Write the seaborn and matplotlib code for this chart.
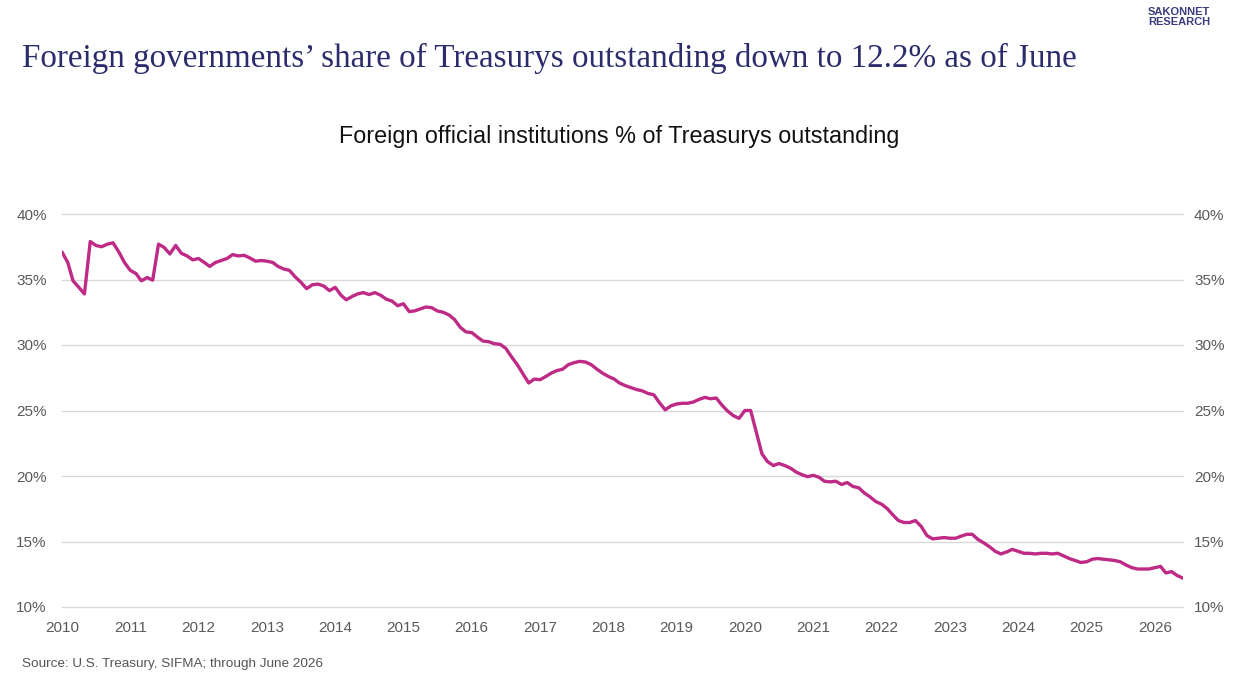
import matplotlib
matplotlib.use("Agg")
import matplotlib.pyplot as plt
import matplotlib.dates as mdates
from matplotlib.ticker import FuncFormatter
import pandas as pd
import seaborn as sns

# Monthly share (%) of Treasurys outstanding held by foreign official institutions
share_2010 = [37.1, 36.3, 34.9, 34.4, 33.9, 37.9, 37.6, 37.5, 37.7, 37.8, 37.1, 36.3]
share_2011 = [35.7, 35.45, 34.9, 35.15, 34.95, 37.7, 37.45, 36.95, 37.6, 37.0, 36.8, 36.5]
share_2012 = [36.6, 36.3, 36.0, 36.3, 36.45, 36.6, 36.9, 36.8, 36.85, 36.65, 36.4, 36.45]
share_2013 = [36.4, 36.3, 36.0, 35.8, 35.7, 35.2, 34.8, 34.3, 34.6, 34.65, 34.5, 34.15]
share_2014 = [34.4, 33.8, 33.45, 33.7, 33.9, 34.0, 33.85, 34.0, 33.8, 33.5, 33.35, 33.0]
share_2015 = [33.15, 32.55, 32.6, 32.75, 32.9, 32.85, 32.6, 32.5, 32.3, 31.95, 31.35, 31.0]
share_2016 = [30.95, 30.6, 30.3, 30.25, 30.1, 30.05, 29.75, 29.1, 28.5, 27.8, 27.1, 27.4]
share_2017 = [27.35, 27.6, 27.85, 28.05, 28.15, 28.5, 28.65, 28.75, 28.7, 28.5, 28.15, 27.85]
share_2018 = [27.6, 27.4, 27.1, 26.9, 26.75, 26.6, 26.5, 26.3, 26.2, 25.6, 25.05, 25.35]
share_2019 = [25.5, 25.55, 25.55, 25.65, 25.85, 26.0, 25.9, 25.95, 25.4, 24.95, 24.6, 24.4]
share_2020 = [25.0, 25.0, 23.4, 21.7, 21.1, 20.8, 20.95, 20.8, 20.6, 20.3, 20.1, 19.95]
share_2021 = [20.05, 19.9, 19.6, 19.55, 19.6, 19.35, 19.5, 19.2, 19.1, 18.7, 18.4, 18.05]
share_2022 = [17.85, 17.5, 17.05, 16.6, 16.45, 16.45, 16.6, 16.15, 15.45, 15.2, 15.25, 15.3]
share_2023 = [15.25, 15.25, 15.4, 15.55, 15.55, 15.15, 14.9, 14.6, 14.25, 14.05, 14.2, 14.4]
share_2024 = [14.25, 14.1, 14.1, 14.05, 14.1, 14.1, 14.05, 14.1, 13.9, 13.7, 13.55, 13.4]
share_2025 = [13.45, 13.65, 13.7, 13.65, 13.6, 13.55, 13.45, 13.2, 13.0, 12.9, 12.9, 12.9]
share_2026 = [13.0, 13.1, 12.6, 12.7, 12.4, 12.2]

share = (share_2010 + share_2011 + share_2012 + share_2013 + share_2014 + share_2015
         + share_2016 + share_2017 + share_2018 + share_2019 + share_2020 + share_2021
         + share_2022 + share_2023 + share_2024 + share_2025 + share_2026)
dates = pd.date_range("2010-01-01", periods=len(share), freq="MS")
y_ticks = [10, 15, 20, 25, 30, 35, 40]

title = "Foreign governments\u2019 share of Treasurys outstanding down to 12.2% as of June"
subtitle = "Foreign official institutions % of Treasurys outstanding"
source = "Source: U.S. Treasury, SIFMA; through June 2026"

sns.set_style("white")
plt.rcParams['font.family'] = ['Liberation Sans', 'DejaVu Sans']

W, H = 1234, 674
fig = plt.figure(figsize=(W / 100, H / 100), dpi=100)
ax = fig.add_axes([62 / W, 1 - 607 / H, (1183 - 62) / W, (607 - 214) / H])

df = pd.DataFrame({"date": dates, "share": share})
sns.lineplot(data=df, x="date", y="share", ax=ax, color="#BE2A86", lw=2.4)

ax.set_xlim(dates[0], dates[-1])
ax.set_ylim(10, 40)
ax.set_yticks(y_ticks)
ax.yaxis.set_major_formatter(FuncFormatter(lambda v, p: f"{v:.0f}%"))
ax.xaxis.set_major_locator(mdates.YearLocator())
ax.xaxis.set_major_formatter(mdates.DateFormatter("%Y"))
ax.tick_params(axis="y", left=False, right=False, labelleft=True, labelright=False,
               length=0, labelsize=11, labelcolor="#5a5a5a", pad=11)
ax.tick_params(axis="x", bottom=False, length=0, labelsize=11, labelcolor="#5a5a5a", pad=10)
ax.grid(axis="y", color="#d9d9d9", lw=1)
ax.grid(axis="x", visible=False)
for gl in ax.get_ygridlines():
    gl.set_clip_on(False)
for s in ax.spines.values():
    s.set_visible(False)
ax.set_xlabel("")
ax.set_ylabel("")

# right-hand duplicate percentage axis
ax2 = ax.twinx()
ax2.set_ylim(ax.get_ylim())
ax2.set_yticks(y_ticks)
ax2.yaxis.set_major_formatter(FuncFormatter(lambda v, p: f"{v:.0f}%"))
ax2.tick_params(axis="y", right=False, length=0, labelsize=11, labelcolor="#5a5a5a", pad=8)
for s in ax2.spines.values():
    s.set_visible(False)
ax2.set_ylabel("")

fig.text(22 / W, 1 - 58 / H, title, family=['Liberation Serif', 'DejaVu Serif'],
         fontsize=23.9, color="#2b2c6b", va="center", ha="left")
fig.text(619 / W, 1 - 136 / H, subtitle, fontsize=16.8, color="#111111", va="center", ha="center")
fig.text(22 / W, 1 - 664 / H, source, fontsize=9.7, color="#555555", va="center", ha="left")
fig.text(1179 / W, 1 - 12 / H, "SAKONNET", fontsize=8, fontweight="bold", color="#3a3d7a",
         va="center", ha="center")
fig.text(1179 / W, 1 - 22 / H, "RESEARCH", fontsize=8, fontweight="bold", color="#3a3d7a",
         va="center", ha="center")

fig.savefig("out.png", dpi=100)
